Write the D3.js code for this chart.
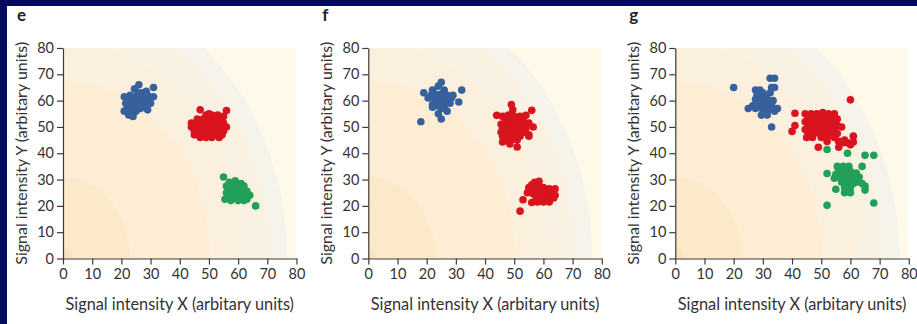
<!DOCTYPE html>
<html>
<head>
<meta charset="utf-8">
<script src="https://cdn.jsdelivr.net/npm/d3@7"></script>
<style>
  body { margin: 0; background: #fff; }
  svg { display: block; }
</style>
</head>
<body>
<div id="chart"></div>
<script>
// ---- data ----
const panelLabels = ["e", "f", "g"];
const xTicks = [0, 10, 20, 30, 40, 50, 60, 70, 80];
const yTicks = [0, 10, 20, 30, 40, 50, 60, 70, 80];
const xTitle = "Signal intensity X (arbitary units)";
const yTitle = "Signal intensity Y (arbitary units)";

const eBlue = [[26,66],[31,65],[24.5,64.5],[28.5,63.5],[27,63],[25.5,63],[23,62],[29,62],[21,61.5],[31,61.5],[24,61],[26,61],[28,61],[22.5,60],[25,60],[27,60],[29.5,60],[21.5,59],[24,59],[26,59],[28,59],[30,59],[23,58],[25,58],[27,58],[22,57],[24.5,57],[28,57.5],[21,56],[29,56.5],[23,56],[25,56],[22.5,54.5],[24,54],[26.5,57]];
const eRed = [[47,56.5],[56,56.2],[49,54.5],[51,54.5],[53,54.5],[55,54],[46,53],[48,53],[50,53],[52,53],[54,53],[44,51.5],[45.5,51.5],[47,51.5],[49,51.5],[51,51.5],[53,51.5],[55,51.5],[44,50],[46,50],[48,50],[50,50],[52,50],[54,50],[56,50],[45,48.5],[47,48.5],[49,48.5],[51,48.5],[53,48.5],[55,48.5],[45,47],[46.5,47],[48.5,47],[50.5,47],[52.5,47],[54.5,47],[47,46],[49,46],[51,46],[53.5,46],[50,55]];
const eGreen = [[55,31],[57,29],[59,29.5],[61,28.5],[56,27.5],[58,27.5],[60,27],[62,27.5],[57,26],[59,26],[61,26],[63,25.5],[56,25],[58,24.5],[60,24.5],[62,24],[64,24],[57,23],[59,23],[61,23],[63,22.5],[55.5,22.5],[57.5,22],[62,22],[60,22],[66,20],[60,25.5]];

const fBlue = [[18,52],[32,64],[31,59.5],[25,67],[24,65.5],[19,63],[22,64],[26,64],[21.5,62],[23,62.5],[25,62.5],[27,62],[29,62],[20.5,61],[22.5,61],[24.5,61],[26.5,61],[28.5,61],[23,59.5],[25,59.5],[27,59.5],[22,58.5],[24,58],[26,58],[28,59],[22,57.5],[25,57],[27,56],[24,55],[25,53]];
const fRedA = [[49,58.5],[49.5,56.5],[56,56.3],[44,54.4],[46,54],[54,54.4],[48,54.5],[50,54],[52,54],[47,52.5],[49,52.5],[51,52.5],[53,52.5],[45.5,51],[47.5,51],[49.5,51],[51.5,51],[53.5,51],[55,51.5],[46,49.5],[48,49.5],[50,49.5],[52,49.5],[54,49.5],[56.5,50],[45.5,48],[47.5,48],[49.5,48],[51.5,48],[53.5,48],[55,47],[46,46.5],[48,46.5],[50,46.5],[52,46.5],[55,46.5],[47,45],[49,45],[51,45],[46,44.3],[48.5,43.5],[51,42.4],[50,51],[48,51],[52,48]];
const fRedB = [[52,18],[53,22.3],[54.5,25],[56,21.3],[57,29],[58.5,29.3],[56,28],[58,27.5],[60,27],[62,26.5],[64,26.5],[57,26],[59,25.5],[61,25.5],[63,25],[56.5,24.5],[58.5,24],[60.5,24],[62.5,24],[64,24],[57.5,22.5],[59.5,22.5],[61.5,22.5],[63.5,23],[60,21.5],[58,21.5],[62,21.5],[55,27],[60,26]];

const gBlue = [[20,65],[32.5,68.5],[34,68.5],[27.5,64],[29,64],[30,63],[33,65],[34,65],[32.5,63],[28,62],[30,62],[27.5,60.5],[29.5,60.5],[31.5,60.5],[33.5,60],[32,59],[26.5,58],[28.5,58],[30.5,58.5],[33,58],[25,57],[35,57],[27.5,57],[30,56.5],[32,56.5],[34,56],[29.5,54.5],[31.5,54.5],[33,50],[31,61.5]];
const gRed = [[60,60.3],[41,55.2],[41,50.5],[40,48.3],[44.5,55],[46.5,55],[48.5,55],[50.5,55.5],[52.5,55],[54.5,55],[45.5,53.5],[47.5,53.5],[49.5,53.5],[51.5,53.5],[53.5,53.5],[55.5,53],[44.5,52],[46.5,52],[48.5,52],[50.5,52],[52.5,52],[54.5,52],[45.5,50.5],[47.5,50.5],[49.5,50.5],[51.5,50.5],[53.5,50.5],[55.5,50.5],[57,50],[44.5,49],[46.5,49],[48.5,49],[50.5,49],[52.5,49],[54.5,49],[45.5,47.5],[47.5,47.5],[49.5,47.5],[51.5,47.5],[53.5,47.5],[55.5,47.5],[45,46],[47,46],[50,46],[52,46],[54.5,46],[49,42.3],[56,42.3],[57.5,44],[59,44],[60,43.2],[61,44.3],[61,46.5],[58,45],[56,44.5],[52,44.5]];
const gGreen = [[52,41.4],[59,40],[65,39.2],[68,39.2],[64,35],[52,32.3],[52,20.2],[68,21.1],[55.5,35],[57.5,35],[59.5,35],[56,33.5],[58,33.5],[60,33],[62,32.5],[55,32],[57,32],[59,32],[61,31.5],[63,31],[54.5,30.5],[56.5,30.5],[58.5,30.5],[60.5,30],[62.5,30],[57,29],[59,29],[61,28.5],[64,28.5],[55,26.3],[58,27],[60,27],[58,25],[60,25],[65,26],[65,27.5],[62,29]];

const colors = {blue: "#37619d", red: "#d9141e", green: "#22a05a"};

const panels = [
  {label: panelLabels[0], left: 63, series: [[eBlue, "blue"], [eRed, "red"], [eGreen, "green"]]},
  {label: panelLabels[1], left: 368.3, series: [[fBlue, "blue"], [fRedA, "red"], [fRedB, "red"]]},
  {label: panelLabels[2], left: 675.3, series: [[gBlue, "blue"], [gRed, "red"], [gGreen, "green"]]}
];

// background bands: ellipses around the origin, x-radius in px, y stretched
const bandRx = [224, 207, 179, 147, 67, 9];
const bandFill = ["#f6f3ea", "#f9f2e3", "#fbf0dd", "#fcedd4", "#fbe9ca", "#fbe4bd"];
const outerFill = "#fef9e8";

const width = 917, height = 324;
const plotTop = 48, plotW = 233.5, plotH = 210.5;
const font = "Lato, 'Open Sans', sans-serif";
const ink = "#3a3a3a";

const svg = d3.select("#chart").append("svg")
  .attr("width", width)
  .attr("height", height);

// navy frame
svg.append("rect").attr("width", width).attr("height", height).attr("fill", "#000b5c");
svg.append("rect").attr("x", 7).attr("y", 6).attr("width", width - 7).attr("height", height - 6).attr("fill", "#fff");

const x = d3.scaleLinear().domain([0, 80]).range([0, plotW]);
const y = d3.scaleLinear().domain([0, 80]).range([plotH, 0]);

panels.forEach((p, i) => {
  const g = svg.append("g").attr("transform", "translate(" + p.left + "," + plotTop + ")");

  g.append("clipPath").attr("id", "clip" + i)
    .append("rect").attr("width", plotW).attr("height", plotH);

  const bg = g.append("g").attr("clip-path", "url(#clip" + i + ")");
  bg.append("rect").attr("width", plotW).attr("height", plotH).attr("fill", outerFill);
  bg.selectAll("ellipse")
    .data(bandRx)
    .enter()
    .append("ellipse")
      .attr("cx", x(0))
      .attr("cy", y(0))
      .attr("rx", d => d)
      .attr("ry", d => d * 1.21)
      .attr("fill", (d, j) => bandFill[j]);

  p.series.forEach(s => {
    g.append("g").selectAll("circle")
      .data(s[0])
      .enter()
      .append("circle")
        .attr("cx", d => x(d[0]))
        .attr("cy", d => y(d[1]))
        .attr("r", 3.8)
        .attr("fill", colors[s[1]]);
  });

  const xAxis = g.append("g")
    .attr("transform", "translate(0," + plotH + ")")
    .call(d3.axisBottom(x).tickValues(xTicks).tickSize(6).tickSizeOuter(0).tickPadding(4));
  const yAxis = g.append("g")
    .call(d3.axisLeft(y).tickValues(yTicks).tickSize(6).tickSizeOuter(0).tickPadding(3));

  [xAxis, yAxis].forEach(a => {
    a.selectAll("path, line").attr("stroke", ink).attr("stroke-width", 1.2);
    a.selectAll("text").attr("fill", "#333").style("font-family", font).style("font-size", "14.5px");
  });

  g.append("text")
    .attr("x", plotW / 2)
    .attr("y", 262)
    .attr("text-anchor", "middle")
    .attr("fill", "#333")
    .style("font-family", font)
    .style("font-size", "16.3px")
    .text(xTitle);

  g.append("text")
    .attr("transform", "translate(-36," + (plotH / 2) + ") rotate(-90)")
    .attr("text-anchor", "middle")
    .attr("fill", "#333")
    .style("font-family", font)
    .style("font-size", "16px")
    .text(yTitle);

  svg.append("text")
    .attr("x", p.left - 46)
    .attr("y", 21)
    .attr("fill", "#222")
    .style("font-family", font)
    .style("font-weight", "bold")
    .style("font-size", "17px")
    .text(p.label);
});
</script>
</body>
</html>
